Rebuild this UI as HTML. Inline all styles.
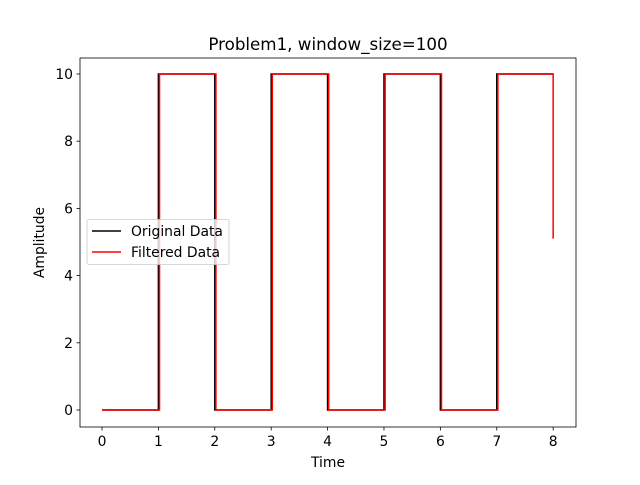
<!DOCTYPE html>
<html><head><meta charset="utf-8"><style>
body{margin:0;background:#fff}
svg{font-family:"DejaVu Sans","Liberation Sans",sans-serif}
</style></head><body>
<svg id="c" width="640" height="480" viewBox="0 0 640 480"></svg>
<script>
const levels=[0,10,0,10,0,10,0,10];
const filteredShift=0.02;
const filteredEndValue=5.1;
const xTicks=[0,1,2,3,4,5,6,7,8];
const yTicks=[0,2,4,6,8,10];
const L=80,R=576,T=58,B=427,xmin=-0.39,xmax=8.405,ymin=-0.506,ymax=10.476;
const X=v=>L+(v-xmin)/(xmax-xmin)*(R-L);
const Y=v=>B-(v-ymin)/(ymax-ymin)*(B-T);
const svg=document.getElementById('c');
const NS='http://www.w3.org/2000/svg';
function mk(t,a,p){const e=document.createElementNS(NS,t);for(const k in a)e.setAttribute(k,a[k]);(p||svg).appendChild(e);return e;}
let pts=[];
levels.forEach((v,i)=>{pts.push([i,v],[i+1,v]);});
let o=mk('polyline',{points:pts.map(p=>X(p[0])+','+Y(p[1])).join(' '),fill:'none',stroke:'#000','stroke-width':1.5});


let fp=[];
levels.forEach((v,i)=>{fp.push([i===0?0:i+filteredShift,v],[i+1+(i===levels.length-1?0:filteredShift),v]);});
fp.push([levels.length,filteredEndValue]);
let f=mk('polyline',{points:fp.map(p=>X(p[0])+','+Y(p[1])).join(' '),fill:'none',stroke:'#ff0000','stroke-width':1.5});


let fr=mk('rect',{x:L,y:T,width:R-L,height:B-T,fill:'none',stroke:'#000','stroke-width':0.8});


xTicks.forEach(t=>{
 mk('line',{x1:X(t),x2:X(t),y1:B,y2:B+3.5,stroke:'#000','stroke-width':0.8});
 let tx=mk('text',{x:X(t),y:B+19,'text-anchor':'middle','font-size':13.9});tx.textContent=t;
 
 
});
yTicks.forEach(t=>{
 mk('line',{x1:L-3.5,x2:L,y1:Y(t),y2:Y(t),stroke:'#000','stroke-width':0.8});
 let tx=mk('text',{x:L-7,y:Y(t)+5,'text-anchor':'end','font-size':13.9});tx.textContent=t;
 
 
});
let xt=mk('text',{x:(L+R)/2,y:467,'text-anchor':'middle','font-size':13.9});xt.textContent='Time';


let yt=mk('text',{x:0,y:0,'text-anchor':'middle','font-size':13.9,transform:`translate(44,${(T+B)/2}) rotate(-90)`});yt.textContent='Amplitude';


let ti=mk('text',{x:(L+R)/2,y:50,'text-anchor':'middle','font-size':16.7});ti.textContent='Problem1, window_size=100';


let lg=mk('g',{});


mk('rect',{x:87,y:219.5,width:142,height:45,rx:2,fill:'#fff','fill-opacity':0.8,stroke:'#ccc','stroke-width':0.8},lg);
[['Original Data','#000',231],['Filtered Data','#ff0000',252]].forEach(e=>{
 mk('line',{x1:92,x2:121,y1:e[2],y2:e[2],stroke:e[1],'stroke-width':1.5},lg);
 let t=mk('text',{x:131,y:e[2]+5,'font-size':13.9},lg);t.textContent=e[0];
 
 
});
</script>
</body></html>
